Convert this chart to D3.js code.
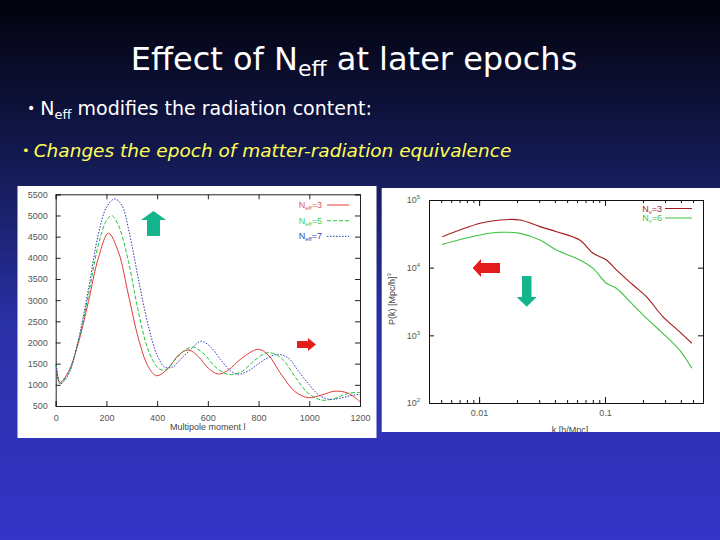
<!DOCTYPE html>
<html>
<head>
<meta charset="utf-8">
<script src="https://cdn.jsdelivr.net/npm/d3@7"></script>
<style>
  body { margin: 0; padding: 0; background: #000; }
  svg { display: block; }
  .tick text { font-family: "Liberation Sans", Arial, sans-serif; fill: #555; }
</style>
</head>
<body>
<div id="viz_container"></div>
<script>
// CMB temperature spectrum
const ellNeff3 = [2, 17, 50, 89, 129, 168, 208, 247, 287, 326, 365, 398, 444, 484, 523, 563, 602, 641, 681, 733, 799, 838, 891, 944, 996, 1049, 1101, 1154, 1200];
const clNeff3 = [1470, 1060, 1310, 1980, 2965, 3990, 4580, 4145, 3120, 2100, 1430, 1215, 1390, 1700, 1823, 1665, 1390, 1255, 1350, 1625, 1838, 1704, 1232, 838, 697, 760, 850, 800, 600];
const ellNeff5 = [2, 17, 50, 89, 129, 168, 201, 221, 247, 287, 326, 365, 405, 431, 470, 510, 543, 589, 628, 681, 733, 786, 838, 891, 944, 996, 1049, 1101, 1154, 1200];
const clNeff5 = [1470, 1035, 1270, 2020, 3120, 4300, 4890, 4996, 4775, 3910, 2730, 1823, 1390, 1350, 1585, 1823, 1890, 1705, 1430, 1245, 1310, 1585, 1760, 1625, 1190, 800, 640, 680, 800, 820];
const ellNeff7 = [2, 17, 50, 89, 129, 168, 201, 232, 260, 290, 326, 365, 400, 430, 460, 500, 540, 573, 610, 650, 690, 720, 760, 800, 840, 878, 920, 960, 1000, 1040, 1080, 1120, 1160, 1200];
const clNeff7 = [1470, 1020, 1240, 2050, 3250, 4550, 5200, 5390, 5250, 4600, 3500, 2400, 1700, 1420, 1420, 1650, 1880, 2030, 1900, 1600, 1330, 1250, 1330, 1500, 1650, 1720, 1620, 1300, 1000, 750, 660, 680, 740, 780];
const ellTicks = [0, 200, 400, 600, 800, 1000, 1200];
const clTicks = [500, 1000, 1500, 2000, 2500, 3000, 3500, 4000, 4500, 5000, 5500];

// matter power spectrum
const kValues = [0.0051, 0.0102, 0.0147, 0.0211, 0.0304, 0.0412, 0.063, 0.0804, 0.1026, 0.123, 0.167, 0.213, 0.288, 0.39, 0.489];
const pkNnu3 = [28700, 45300, 50700, 50700, 40400, 34000, 25600, 16300, 13000, 9250, 5550, 3730, 1890, 1135, 764];
const pkNnu6 = [22100, 30400, 33300, 32100, 25600, 18200, 13000, 9770, 5890, 4970, 2810, 1790, 1070, 608, 327];
const kTicks = [0.01, 0.1];
const pkTicks = [100, 1000, 10000, 100000];

const W = 720, H = 540;
const svg = d3.select("#viz_container")
    .append("svg")
    .attr("width", W)
    .attr("height", H);

// slide background
const defs = svg.append("defs");
const grad = defs.append("linearGradient")
    .attr("id", "bg").attr("x1", 0).attr("y1", 0).attr("x2", 0).attr("y2", 1);
grad.append("stop").attr("offset", "0%").attr("stop-color", "#02020c");
grad.append("stop").attr("offset", "30%").attr("stop-color", "#141a52");
grad.append("stop").attr("offset", "60%").attr("stop-color", "#2a30a6");
grad.append("stop").attr("offset", "100%").attr("stop-color", "#3434c8");
svg.append("rect").attr("width", W).attr("height", H).attr("fill", "url(#bg)");

// title
const title = svg.append("text")
    .attr("x", 354).attr("y", 70)
    .attr("text-anchor", "middle")
    .attr("fill", "#fff")
    .style("font-family", "'DejaVu Sans', sans-serif")
    .style("font-size", "32px");
title.append("tspan").text("Effect of N");
title.append("tspan").attr("dy", 6).style("font-size", "22px").text("eff");
title.append("tspan").attr("dy", -6).text(" at later epochs");

// bullets
const b1 = svg.append("text")
    .attr("x", 27).attr("y", 115)
    .attr("fill", "#fff")
    .style("font-family", "'DejaVu Sans', sans-serif")
    .style("font-size", "19px");
b1.append("tspan").style("font-size", "14px").attr("dy", -2).text("•");
b1.append("tspan").attr("dx", 5).attr("dy", 2).text("N");
b1.append("tspan").attr("dy", 4).style("font-size", "13px").text("eff");
b1.append("tspan").attr("dy", -4).text(" modifies the radiation content:");

const b2 = svg.append("text")
    .attr("x", 22).attr("y", 157)
    .attr("fill", "#ffff55")
    .style("font-family", "'DejaVu Sans', sans-serif")
    .style("font-size", "18.5px")
    .style("font-style", "oblique");
b2.append("tspan").style("font-size", "13px").style("font-style", "normal").attr("dy", -2).text("•");
b2.append("tspan").attr("dx", 4).attr("dy", 2).text("Changes the epoch of matter-radiation equivalence");

// small helper for the teal/red block arrows
function arrow(g, pts, fill) {
    g.append("polygon")
        .attr("points", pts.map(p => p.join(",")).join(" "))
        .attr("fill", fill);
}

// ---------------- left panel: CMB spectrum ----------------
svg.append("rect")
    .attr("x", 17.5).attr("y", 186).attr("width", 359).attr("height", 252)
    .attr("fill", "#fff");

const xL = d3.scaleLinear().domain([0, 1200]).range([55.7, 360]);
const yL = d3.scaleLinear().domain([500, 5500]).range([406, 194.3]);
const left = svg.append("g");

left.append("g")
    .attr("transform", `translate(0,${yL(500)})`)
    .call(d3.axisBottom(xL).tickValues(ellTicks).tickSize(-5).tickPadding(9).tickFormat(d3.format("d")))
    .call(g => g.selectAll("text").style("font-size", "9px"));
left.append("g")
    .attr("transform", `translate(0,${yL(5500)})`)
    .call(d3.axisTop(xL).tickValues(ellTicks).tickSize(-5).tickFormat(""));
left.append("g")
    .attr("transform", `translate(${xL(0)},0)`)
    .call(d3.axisLeft(yL).tickValues(clTicks).tickSize(-5).tickPadding(8).tickFormat(d3.format("d")))
    .call(g => g.selectAll("text").style("font-size", "9px"));
left.append("g")
    .attr("transform", `translate(${xL(1200)},0)`)
    .call(d3.axisRight(yL).tickValues(clTicks).tickSize(-5).tickFormat(""));
left.selectAll(".domain, .tick line").attr("stroke", "#222");

left.append("text")
    .attr("x", (xL(0) + xL(1200)) / 2).attr("y", 430)
    .attr("text-anchor", "middle")
    .attr("fill", "#444")
    .style("font-family", "'Liberation Sans', Arial, sans-serif")
    .style("font-size", "9px")
    .text("Multipole moment l");

const cmbSeries = [
    { ell: ellNeff3, cl: clNeff3, label: "3", color: "#e23a3a", text: "#e25555", dash: null },
    { ell: ellNeff5, cl: clNeff5, label: "5", color: "#22c43a", text: "#44d055", dash: "4,2" },
    { ell: ellNeff7, cl: clNeff7, label: "7", color: "#2a3ab8", text: "#3344c0", dash: "1.5,1.5" }
];
const lineL = d3.line()
    .x(d => xL(d[0]))
    .y(d => yL(d[1]))
    .curve(d3.curveCatmullRom.alpha(0.5));

cmbSeries.forEach((s, i) => {
    left.append("path")
        .datum(d3.zip(s.ell, s.cl))
        .attr("d", lineL)
        .attr("fill", "none")
        .attr("stroke", s.color)
        .attr("stroke-width", 1)
        .attr("stroke-dasharray", s.dash);

    const ly = 205 + i * 15.7;
    const t = left.append("text")
        .attr("x", 322).attr("y", ly + 3)
        .attr("text-anchor", "end")
        .attr("fill", s.text)
        .style("font-family", "'Liberation Sans', Arial, sans-serif")
        .style("font-size", "9px");
    t.append("tspan").text("N");
    t.append("tspan").attr("dy", 2).style("font-size", "6px").text("eff");
    t.append("tspan").attr("dy", -2).text("=" + s.label);
    left.append("line")
        .attr("x1", 327).attr("x2", 349).attr("y1", ly).attr("y2", ly)
        .attr("stroke", s.color).attr("stroke-width", 1)
        .attr("stroke-dasharray", s.dash);
});

// up arrow (amplitude) and right arrow (shift)
arrow(left, [[153.5, 211], [166, 220], [160, 220], [160, 236], [147, 236], [147, 220], [141, 220]], "#14b48c");
arrow(left, [[297, 341], [308, 341], [308, 338], [316, 344.5], [308, 351], [308, 348], [297, 348]], "#e51c1c");

// ---------------- right panel: matter power spectrum ----------------
svg.append("rect")
    .attr("x", 381.7).attr("y", 188).attr("width", 340).attr("height", 244)
    .attr("fill", "#fff");

defs.append("clipPath").attr("id", "rclip")
    .append("rect").attr("x", 381.7).attr("y", 188).attr("width", 340).attr("height", 244);

const xR = d3.scaleLog().domain([0.004, 0.6]).range([429, 703]);
const yR = d3.scaleLog().domain([100, 100000]).range([403, 200]);
const right = svg.append("g").attr("clip-path", "url(#rclip)");

const minorK = xR.ticks().filter(k => k > 0.004 && k < 0.6);
right.append("g")
    .attr("transform", `translate(0,${yR(100)})`)
    .call(d3.axisBottom(xR).tickValues(minorK).tickSize(-3).tickFormat(""));
right.append("g")
    .attr("transform", `translate(0,${yR(100)})`)
    .call(d3.axisBottom(xR).tickValues(kTicks).tickSize(-6).tickPadding(7).tickFormat(d3.format("")))
    .call(g => g.selectAll("text").style("font-size", "9px"));
right.append("g")
    .attr("transform", `translate(0,${yR(100000)})`)
    .call(d3.axisTop(xR).tickValues(minorK).tickSize(-3).tickFormat(""));
right.append("g")
    .attr("transform", `translate(0,${yR(100000)})`)
    .call(d3.axisTop(xR).tickValues(kTicks).tickSize(-6).tickFormat(""));
right.append("g")
    .attr("transform", `translate(${xR(0.004)},0)`)
    .call(d3.axisLeft(yR).tickValues(pkTicks).tickSize(-5).tickPadding(8).tickFormat(""))
    .call(g => g.selectAll(".tick").each(function (d) {
        const t = d3.select(this).append("text")
            .attr("x", -9).attr("dy", "0.32em")
            .attr("text-anchor", "end")
            .style("font-size", "9px");
        t.append("tspan").text("10");
        t.append("tspan").attr("dy", -4).style("font-size", "6px").text(Math.round(Math.log10(d)));
    }));
right.append("g")
    .attr("transform", `translate(${xR(0.6)},0)`)
    .call(d3.axisRight(yR).tickValues(pkTicks).tickSize(-5).tickFormat(""));
right.selectAll(".domain, .tick line").attr("stroke", "#111");

const yLab = right.append("text")
    .attr("transform", "translate(395,299) rotate(-90)")
    .attr("text-anchor", "middle")
    .attr("fill", "#444")
    .style("font-family", "'Liberation Sans', Arial, sans-serif")
    .style("font-size", "9px");
yLab.append("tspan").text("P(k)  [Mpc/h]");
yLab.append("tspan").attr("dy", -4).style("font-size", "6px").text("3");

right.append("text")
    .attr("x", 570).attr("y", 433)
    .attr("text-anchor", "middle")
    .attr("fill", "#444")
    .style("font-family", "'Liberation Sans', Arial, sans-serif")
    .style("font-size", "9px")
    .text("k  [h/Mpc]");

const pkSeries = [
    { pk: pkNnu3, label: "3", color: "#a41a1a" },
    { pk: pkNnu6, label: "6", color: "#3ec23e" }
];
const lineR = d3.line()
    .x(d => xR(d[0]))
    .y(d => yR(d[1]))
    .curve(d3.curveCatmullRom.alpha(0.5));

pkSeries.forEach((s, i) => {
    right.append("path")
        .datum(d3.zip(kValues, s.pk))
        .attr("d", lineR)
        .attr("fill", "none")
        .attr("stroke", s.color)
        .attr("stroke-width", 1.1);

    const ly = 208.5 + i * 9.5;
    const t = right.append("text")
        .attr("x", 662).attr("y", ly + 3)
        .attr("text-anchor", "end")
        .attr("fill", s.color)
        .style("font-family", "'Liberation Sans', Arial, sans-serif")
        .style("font-size", "9px");
    t.append("tspan").text("N");
    t.append("tspan").attr("dy", 2).style("font-size", "6px").text("ν");
    t.append("tspan").attr("dy", -2).text("=" + s.label);
    right.append("line")
        .attr("x1", 665).attr("x2", 692).attr("y1", ly).attr("y2", ly)
        .attr("stroke", s.color).attr("stroke-width", 1);
});

// left arrow (shift) and down arrow (amplitude)
arrow(right, [[472.7, 268], [481, 259], [481, 263], [500, 263], [500, 273], [481, 273], [481, 277]], "#e51c1c");
arrow(right, [[526.7, 306.7], [516.7, 297], [522, 297], [522, 276], [531.5, 276], [531.5, 297], [536.7, 297]], "#14b48c");
</script>
</body>
</html>
